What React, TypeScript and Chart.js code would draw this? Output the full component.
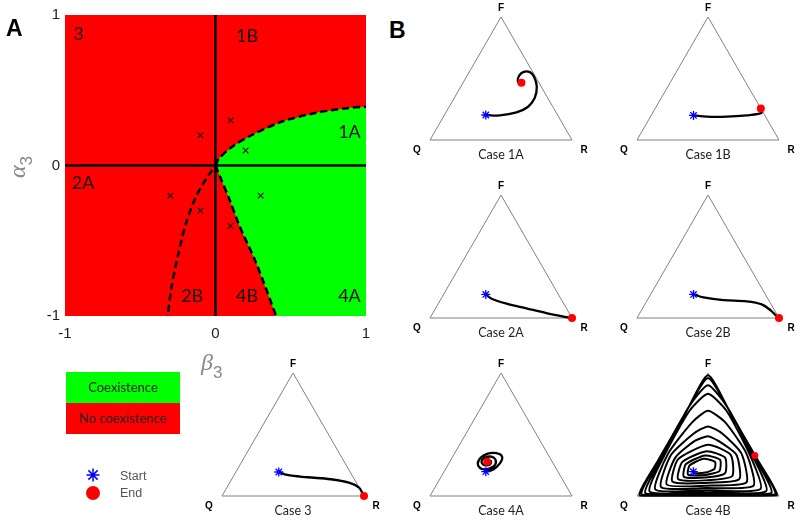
import React, { useEffect, useRef } from "react";
import { Chart, registerables } from "chart.js";

Chart.register(...registerables);

// ---------- Panel A data (beta_3 on x, alpha_3 on y) ----------
const BETA_TICKS = [-1, 0, 1];
const ALPHA_TICKS = [-1, 0, 1];
const UPPER_BOUNDARY = [
  [0, 0], [0.027, 0.051], [0.115, 0.128], [0.248, 0.206], [0.447, 0.294], [0.669, 0.35], [0.89, 0.383], [1, 0.39],
];
const LOWER_BOUNDARY = [
  [0, 0], [0.038, -0.093], [0.093, -0.226], [0.16, -0.403], [0.27, -0.647], [0.403, -1],
];
const LEFT_BOUNDARY = [
  [-0.02, -0.03], [-0.051, -0.071], [-0.128, -0.204], [-0.195, -0.38], [-0.25, -0.6], [-0.294, -0.82], [-0.317, -1],
];
const SAMPLE_POINTS = [
  [-0.1, 0.2], [0.1, 0.3], [0.2, 0.1], [-0.3, -0.2], [-0.1, -0.3], [0.3, -0.2], [0.1, -0.4],
];
const REGION_LABELS = ["3", "1B", "1A", "2A", "2B", "4B", "4A"];
const REGION_POS = [
  [-0.91, 0.87], [0.21, 0.86], [0.89, 0.22], [-0.88, -0.12], [-0.155, -0.87], [0.21, -0.87], [0.89, -0.87],
];

// ---------- Panel B data (triangle coords: Q=(0,0), R=(1,0), F=(0.5,0.866)) ----------
const TRIANGLE = [[0, 0], [1, 0], [0.5, 0.866], [0, 0]];
const CASE_1A = [
  [0.393, 0.176], [0.492, 0.173], [0.609, 0.194], [0.691, 0.234], [0.738, 0.297], [0.752, 0.375],
  [0.733, 0.445], [0.703, 0.478], [0.66, 0.48], [0.628, 0.454], [0.618, 0.415], [0.637, 0.393], [0.644, 0.403],
];
const CASE_1B = [
  [0.398, 0.173], [0.492, 0.164], [0.632, 0.164], [0.773, 0.173], [0.862, 0.185], [0.88, 0.198], [0.872, 0.222],
];
const CASE_2A = [
  [0.393, 0.166], [0.433, 0.136], [0.539, 0.101], [0.679, 0.068], [0.82, 0.035], [0.96, 0.007], [1, 0],
];
const CASE_2B = [
  [0.398, 0.166], [0.468, 0.145], [0.609, 0.126], [0.773, 0.117], [0.878, 0.096], [0.941, 0.054], [0.984, 0.012], [1, 0],
];
const CASE_3 = [
  [0.4, 0.169], [0.459, 0.148], [0.6, 0.132], [0.765, 0.118], [0.894, 0.094], [0.965, 0.059], [0.988, 0.021], [1, 0],
];
const CASE_4A = [
  [0.393, 0.171], [0.445, 0.187], [0.492, 0.23], [0.508, 0.276], [0.468, 0.302], [0.398, 0.295],
  [0.344, 0.253], [0.344, 0.206], [0.386, 0.187], [0.445, 0.206], [0.464, 0.246], [0.438, 0.276],
  [0.386, 0.269], [0.363, 0.241], [0.382, 0.218], [0.422, 0.222], [0.429, 0.246], [0.403, 0.241],
];
const CASE_4B = [
  [0.397, 0.171],
  [0.4, 0.162], [0.48, 0.165], [0.545, 0.19], [0.55, 0.24], [0.47, 0.262], [0.37, 0.215],
  [0.36, 0.15], [0.48, 0.148], [0.58, 0.175], [0.585, 0.255], [0.48, 0.285], [0.345, 0.225],
  [0.33, 0.135], [0.48, 0.13], [0.62, 0.16], [0.62, 0.27], [0.49, 0.315], [0.32, 0.24],
  [0.29, 0.118], [0.48, 0.11], [0.67, 0.14], [0.66, 0.29], [0.5, 0.36], [0.29, 0.26],
  [0.25, 0.1], [0.48, 0.092], [0.72, 0.118], [0.7, 0.29], [0.57, 0.39], [0.5, 0.42], [0.41, 0.39], [0.27, 0.27],
  [0.21, 0.08], [0.485, 0.073], [0.77, 0.095], [0.735, 0.3], [0.6, 0.44], [0.5, 0.49], [0.4, 0.44], [0.24, 0.29],
  [0.17, 0.062], [0.49, 0.056], [0.82, 0.072], [0.77, 0.3], [0.62, 0.52], [0.5, 0.6], [0.39, 0.52], [0.22, 0.3],
  [0.13, 0.045], [0.49, 0.04], [0.87, 0.05], [0.79, 0.3], [0.63, 0.6], [0.5, 0.72], [0.37, 0.6], [0.2, 0.3],
  [0.09, 0.03], [0.5, 0.026], [0.91, 0.033], [0.81, 0.29], [0.64, 0.62], [0.5, 0.78], [0.36, 0.62], [0.19, 0.29],
  [0.06, 0.018], [0.5, 0.015], [0.945, 0.02], [0.83, 0.27], [0.65, 0.6], [0.5, 0.83], [0.35, 0.6], [0.165, 0.27],
  [0.035, 0.009], [0.5, 0.007], [0.97, 0.01], [0.845, 0.26], [0.665, 0.57], [0.5, 0.85], [0.335, 0.57], [0.155, 0.26],
  [0.02, 0.004], [0.5, 0.002], [0.985, 0.005], [0.83, 0.285],
];
const CASE_TITLES = ["Case 1A", "Case 1B", "Case 2A", "Case 2B", "Case 3", "Case 4A", "Case 4B"];
const CASE_DATA = [CASE_1A, CASE_1B, CASE_2A, CASE_2B, CASE_3, CASE_4A, CASE_4B];
const LEGEND_MARKS = ["Start", "End"];

const toXY = (arr: number[][]) => arr.map(([x, y]) => ({ x, y }));

const regionLabelsPlugin = {
  id: "regionLabels",
  afterDatasetsDraw(chart: any) {
    const { ctx, scales } = chart;
    ctx.save();
    ctx.font = '18px Lato, "Open Sans", sans-serif';
    ctx.fillStyle = "#111";
    ctx.textAlign = "center";
    ctx.textBaseline = "middle";
    REGION_LABELS.forEach((t, i) => {
      ctx.fillText(t, scales.x.getPixelForValue(REGION_POS[i][0]), scales.y.getPixelForValue(REGION_POS[i][1]));
    });
    ctx.restore();
  },
};

function PanelA() {
  const ref = useRef<HTMLCanvasElement>(null);
  useEffect(() => {
    const green = [...UPPER_BOUNDARY, [1, ALPHA_TICKS[0]], ...[...LOWER_BOUNDARY].reverse()];
    const red = [
      [BETA_TICKS[0], ALPHA_TICKS[0]], [BETA_TICKS[0], ALPHA_TICKS[2]],
      [BETA_TICKS[2], ALPHA_TICKS[2]], [BETA_TICKS[2], ALPHA_TICKS[0]],
    ];
    const dashed = { borderColor: "#000", borderWidth: 2.5, borderDash: [7, 4], pointRadius: 0, tension: 0.3, fill: false };
    const axisLine = { borderColor: "#000", borderWidth: 2.5, pointRadius: 0, fill: false };
    const tickFont = { family: '"Liberation Sans", Arial, sans-serif', size: 15 };
    const chart = new Chart(ref.current!, {
      type: "line",
      data: {
        datasets: [
          { data: toXY(SAMPLE_POINTS), showLine: false, pointStyle: "crossRot", pointRadius: 4, pointBorderWidth: 1.1, borderColor: "#111", backgroundColor: "#111" },
          { data: toXY(UPPER_BOUNDARY), ...dashed },
          { data: toXY(LOWER_BOUNDARY), ...dashed },
          { data: toXY(LEFT_BOUNDARY), ...dashed },
          { data: [{ x: -1, y: 0 }, { x: 1, y: 0 }], ...axisLine },
          { data: [{ x: 0, y: -1 }, { x: 0, y: 1 }], ...axisLine },
          { data: toXY(green), borderWidth: 0, backgroundColor: "#00ff00", fill: "shape", pointRadius: 0, tension: 0 },
          { data: toXY(red), borderWidth: 0, backgroundColor: "#ff0000", fill: "shape", pointRadius: 0, tension: 0 },
        ] as any,
      },
      options: {
        animation: false,
        responsive: false,
        maintainAspectRatio: false,
        events: [],
        plugins: { legend: { display: false }, tooltip: { enabled: false } },
        layout: { padding: { left: 0, top: 15, right: 14, bottom: 0 } },
        scales: {
          x: {
            type: "linear", min: -1, max: 1,
            grid: { display: false, drawTicks: false }, border: { display: false },
            afterBuildTicks: (s: any) => { s.ticks = BETA_TICKS.map((v) => ({ value: v })); },
            afterFit: (s: any) => { s.height = 30; },
            ticks: { padding: 9, font: tickFont, color: "#222", maxRotation: 0, autoSkip: false },
          },
          y: {
            type: "linear", min: -1, max: 1,
            grid: { display: false, drawTicks: false }, border: { display: false },
            afterBuildTicks: (s: any) => { s.ticks = ALPHA_TICKS.map((v) => ({ value: v })); },
            afterFit: (s: any) => { s.width = 65; },
            ticks: { padding: 5, font: tickFont, color: "#222", autoSkip: false },
          },
        },
      } as any,
      plugins: [regionLabelsPlugin],
    });
    return () => chart.destroy();
  }, []);
  return <canvas ref={ref} width={380} height={346} style={{ position: "absolute", left: 0, top: 0, width: 380, height: 346 }} />;
}

const ternaryLabelsPlugin = {
  id: "ternaryLabels",
  afterDraw(chart: any, _args: any, opts: any) {
    const { ctx, scales } = chart;
    const xq = scales.x.getPixelForValue(0), xr = scales.x.getPixelForValue(1), xf = scales.x.getPixelForValue(0.5);
    const yb = scales.y.getPixelForValue(0), yt = scales.y.getPixelForValue(0.866);
    ctx.save();
    ctx.textAlign = "center";
    ctx.textBaseline = "middle";
    ctx.fillStyle = "#000";
    ctx.font = 'bold 10px "Liberation Sans", Arial, sans-serif';
    ctx.fillText("F", xf, yt - 9);
    ctx.fillText("Q", xq - 13, yb + 10);
    ctx.fillText("R", xr + 12, yb + 10);
    ctx.fillStyle = "#222";
    ctx.font = '12.5px Lato, "Open Sans", sans-serif';
    ctx.fillText(opts.title, xf, yb + 15);
    ctx.restore();
  },
};

function Ternary({ idx, left, top }: { idx: number; left: number; top: number }) {
  const ref = useRef<HTMLCanvasElement>(null);
  const W = 142, H = 123, PL = 22, PR = 22, PT = 18, PB = 24;
  useEffect(() => {
    const traj = CASE_DATA[idx];
    const start = traj[0];
    const end = traj[traj.length - 1];
    const isCycle = idx === 6;
    const chart = new Chart(ref.current!, {
      type: "line",
      data: {
        datasets: [
          { data: [{ x: end[0], y: end[1] }], showLine: false, pointStyle: "circle", pointRadius: isCycle ? 3.5 : 4, backgroundColor: "#ff0000", borderColor: "#ff0000", pointBorderWidth: 0, clip: false },
          { data: [{ x: start[0], y: start[1] }], showLine: false, pointStyle: "star", pointRadius: 4.5, borderColor: "#0000ff", backgroundColor: "#0000ff", pointBorderWidth: 1.3, clip: false },
          { data: toXY(traj), borderColor: "#000", borderWidth: isCycle ? 2 : 2.3, pointRadius: 0, tension: isCycle ? 0.2 : 0.35, fill: false, clip: false },
          { data: toXY(TRIANGLE), borderColor: "#808080", borderWidth: 1, pointRadius: 0, tension: 0, fill: false, clip: false },
        ] as any,
      },
      options: {
        animation: false,
        responsive: false,
        maintainAspectRatio: false,
        events: [],
        layout: { padding: { left: PL, right: PR, top: PT, bottom: PB } },
        plugins: { legend: { display: false }, tooltip: { enabled: false }, ternaryLabels: { title: CASE_TITLES[idx] } },
        scales: {
          x: { type: "linear", min: 0, max: 1, display: false },
          y: { type: "linear", min: 0, max: 0.866, display: false },
        },
      } as any,
      plugins: [ternaryLabelsPlugin],
    });
    return () => chart.destroy();
  }, [idx]);
  const w = W + PL + PR, h = H + PT + PB;
  return <canvas ref={ref} width={w} height={h} style={{ position: "absolute", left: left - PL, top: top - PT, width: w, height: h }} />;
}

function LegendMarks() {
  const ref = useRef<HTMLCanvasElement>(null);
  useEffect(() => {
    const chart = new Chart(ref.current!, {
      type: "line",
      data: {
        datasets: [
          { label: LEGEND_MARKS[0], data: [{ x: 0, y: 1 }], showLine: false, pointStyle: "star", pointRadius: 6.5, borderColor: "#0000ff", pointBorderWidth: 1.5, clip: false },
          { label: LEGEND_MARKS[1], data: [{ x: 0, y: 0 }], showLine: false, pointStyle: "circle", pointRadius: 7, backgroundColor: "#ff0000", borderColor: "#ff0000", pointBorderWidth: 0, clip: false },
        ] as any,
      },
      options: {
        animation: false, responsive: false, maintainAspectRatio: false, events: [],
        layout: { padding: { left: 0, right: 0, top: 15, bottom: 17 } },
        plugins: { legend: { display: false }, tooltip: { enabled: false } },
        scales: { x: { type: "linear", min: -1, max: 1, display: false }, y: { type: "linear", min: 0, max: 1, display: false } },
      } as any,
    });
    return () => chart.destroy();
  }, []);
  return <canvas ref={ref} width={26} height={50} style={{ position: "absolute", left: 80, top: 460, width: 26, height: 50 }} />;
}

export default function App() {
  const abs = (s: any) => ({ position: "absolute" as const, ...s });
  const calibri = 'Lato, "Open Sans", sans-serif';
  return (
    <div style={{ position: "absolute", left: 0, top: 0, width: 800, height: 519, background: "#fff", overflow: "hidden" }}>
      <PanelA />
      <Ternary idx={0} left={430} top={17} />
      <Ternary idx={1} left={637} top={17} />
      <Ternary idx={2} left={430} top={195} />
      <Ternary idx={3} left={637} top={195} />
      <Ternary idx={4} left={222} top={373} />
      <Ternary idx={5} left={430} top={373} />
      <Ternary idx={6} left={637} top={373} />
      <LegendMarks />

      <div style={abs({ left: 6, top: 17, font: 'bold 23px "Liberation Sans", Arial, sans-serif', lineHeight: "23px", color: "#000" })}>A</div>
      <div style={abs({ left: 389, top: 19, font: 'bold 23px "Liberation Sans", Arial, sans-serif', lineHeight: "23px", color: "#000" })}>B</div>

      <div style={abs({ left: -6, top: 152, width: 50, height: 30, transform: "rotate(-90deg)", textAlign: "center", color: "#888", whiteSpace: "nowrap", lineHeight: "30px" })}>
        <span style={{ font: 'italic 24px "Liberation Serif", serif' }}>α</span>
        <span style={{ font: '17px "Liberation Sans", sans-serif', position: "relative", top: 7 }}>3</span>
      </div>
      <div style={abs({ left: 201, top: 349, color: "#888", whiteSpace: "nowrap", lineHeight: "26px" })}>
        <span style={{ font: 'italic 24px "Liberation Serif", serif' }}>β</span>
        <span style={{ font: '17px "Liberation Sans", sans-serif', position: "relative", top: 8 }}>3</span>
      </div>

      <div style={abs({ left: 66, top: 372, width: 114, height: 31, background: "#00ff00", color: "#222", font: `13px ${calibri}`, lineHeight: "31px", textAlign: "center" })}>Coexistence</div>
      <div style={abs({ left: 66, top: 403, width: 114, height: 31, background: "#ff0000", color: "#222", font: `13px ${calibri}`, lineHeight: "31px", textAlign: "center" })}>No coexistence</div>

      <div style={abs({ left: 120, top: 468, color: "#555", font: '12.5px "Liberation Sans", Arial, sans-serif', lineHeight: "16px" })}>{LEGEND_MARKS[0]}</div>
      <div style={abs({ left: 120, top: 485, color: "#555", font: '12.5px "Liberation Sans", Arial, sans-serif', lineHeight: "16px" })}>{LEGEND_MARKS[1]}</div>
    </div>
  );
}
